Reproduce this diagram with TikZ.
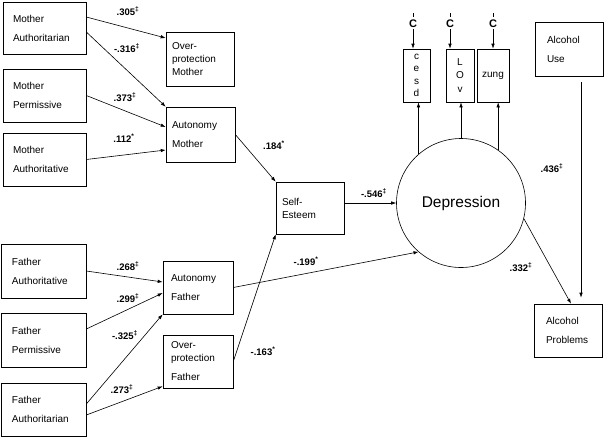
\documentclass[tikz,border=0pt]{standalone}
\usepackage{fontspec}
\setmainfont{Liberation Sans}
\usetikzlibrary{arrows.meta}
\begin{document}
\begin{tikzpicture}[x=1pt,y=-1pt,line width=0.6pt,>={Latex[length=5pt,width=3.5pt]},
    box/.style={draw,align=left,inner sep=0pt,font=\fontsize{10}{19}\selectfont},
    tight/.style={font=\fontsize{10}{13}\selectfont},
    ind/.style={draw,align=center,inner sep=0pt,minimum height=53pt,font=\fontsize{10}{12.5}\selectfont},
    err/.style={inner sep=1pt,font=\fontsize{11}{12}\selectfont\bfseries},
    coef/.style={inner sep=1pt,font=\fontsize{9.5}{10}\selectfont\bfseries}]
      \useasboundingbox (0,0) rectangle (604,437);
      \draw
        (44.5,28) node[box,minimum width=83pt,minimum height=52pt,text width=63pt] (mAn) {Mother\\Authoritarian}
        (200,59) node[box,tight,minimum width=68pt,minimum height=54pt,text width=56pt] (oM) {Over-\\protection\\Mother}
        (44.5,95.5) node[box,minimum width=83pt,minimum height=53pt,text width=63pt] (mP) {Mother\\Permissive}
        (200.5,134.5) node[box,minimum width=69pt,minimum height=55pt,text width=57pt] (aM) {Autonomy\\Mother}
        (44.5,159.5) node[box,minimum width=83pt,minimum height=53pt,text width=63pt] (mAv) {Mother\\Authoritative}
        (310,208) node[box,tight,minimum width=68pt,minimum height=52pt,text width=56pt] (se) {Self-\\Esteem}
        (43.5,271) node[box,minimum width=85pt,minimum height=54pt,text width=63pt] (fAv) {Father\\Authoritative}
        (43.5,340) node[box,minimum width=85pt,minimum height=54pt,text width=63pt] (fP) {Father\\Permissive}
        (43.5,409.5) node[box,minimum width=85pt,minimum height=53pt,text width=63pt] (fAn) {Father\\Authoritarian}
        (198,287.5) node[box,minimum width=70pt,minimum height=53pt,text width=54pt] (aF) {Autonomy\\Father}
        (198,361.5) node[box,tight,minimum width=70pt,minimum height=53pt,text width=54pt] (oF) {Over-\\protection\\[6pt]Father}
        (461,203) node[draw,circle,inner sep=0pt,minimum size=129pt,font=\fontsize{15.5}{18}\selectfont] (dep) {Depression}
        (416.5,75.5) node[ind,minimum width=27pt] (c1) {c\\e\\s\\d}
        (460,75.5) node[ind,minimum width=28pt,font=\fontsize{10}{13.5}\selectfont] (c2) {L\\O\\v}
        (493,75.5) node[ind,minimum width=32pt] (c3) {zung}
        (413,24) node[err] (e1) {C}
        (450,24) node[err] (e2) {C}
        (493,24) node[err] (e3) {C}
        (569,49) node[box,minimum width=68pt,minimum height=54pt,text width=44pt] (aU) {Alcohol\\Use}
        (568,330.5) node[box,minimum width=68pt,minimum height=53pt,text width=44pt] (aP) {Alcohol\\Problems};
      % path coefficients
      \draw
        (128,11) node[coef] (k1) {.305\textsuperscript{‡}}
        (127,48) node[coef] (k2) {-.316\textsuperscript{‡}}
        (125,97) node[coef] (k3) {.373\textsuperscript{‡}}
        (124,138) node[coef] (k4) {.112\textsuperscript{*}}
        (274,145) node[coef] (k5) {.184\textsuperscript{*}}
        (374,193) node[coef] (k6) {-.546\textsuperscript{‡}}
        (552,168) node[coef] (k7) {.436\textsuperscript{‡}}
        (521,267) node[coef] (k8) {.332\textsuperscript{‡}}
        (306,261) node[coef] (k9) {-.199\textsuperscript{*}}
        (263,351) node[coef] (k10) {-.163\textsuperscript{*}}
        (128,266) node[coef] (k11) {.268\textsuperscript{‡}}
        (128,298) node[coef] (k12) {.299\textsuperscript{‡}}
        (125,335) node[coef] (k13) {-.325\textsuperscript{‡}}
        (122,389) node[coef] (k14) {.273\textsuperscript{‡}};
      \draw ([yshift=2pt]e1.north) -- ++(0,-4);
      \draw ([yshift=2pt]e2.north) -- ++(0,-4);
      \draw ([yshift=2pt]e3.north) -- ++(0,-4);
      \begin{scope}[->]
        \draw ([yshift=11pt]mAn.east) to ([yshift=21pt]oM.west);
        \draw ([yshift=-4pt]mAn.east) to (aM.north west);
        \draw (mP.east) to ([yshift=7.5pt]aM.west);
        \draw (mAv.east) to ([yshift=-15.5pt]aM.west);
        \draw (aM.east) to (se.north west);
        \draw ([yshift=5pt]se.east) to (dep.west);
        \draw (fAv.east) to ([yshift=5.5pt]aF.west);
        \draw ([yshift=11pt]fP.east) to ([yshift=-5.5pt]aF.west);
        \draw ([yshift=5.5pt]fAn.east) to (aF.south west);
        \draw ([yshift=-5.5pt]fAn.east) to ([yshift=2pt]oF.south west);
        \draw (aF.east) to (dep.229);
        \draw (oF.east) to (se.south west);
        \draw (dep.131) to (dep.131 |- c1.south);
        \draw (dep.north) to (dep.north |- c2.south);
        \draw (dep.55) to (dep.55 |- c3.south);
        \draw (e1) to (e1 |- c1.north);
        \draw (e2) to (e2 |- c2.north);
        \draw (e3) to (e3 |- c3.north);
        \draw ([xshift=12pt,yshift=-6pt]aU.south) to ([xshift=13pt,yshift=6pt]aP.north);
        \draw (dep.-14) to ([xshift=3pt]aP.north);
      \end{scope}
    \end{tikzpicture}
\end{document}
